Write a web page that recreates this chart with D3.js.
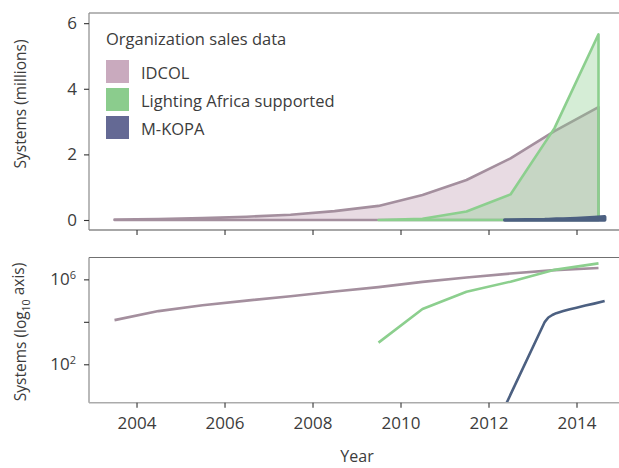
<!DOCTYPE html>
<html>
<head>
<meta charset="utf-8">
<script src="https://cdn.jsdelivr.net/npm/d3@7"></script>
<style>
body { margin: 0; background: #fff; }
text { font-family: "Open Sans", sans-serif; fill: #3c3c3c; }
</style>
</head>
<body>
<svg id="chart" width="619" height="468"></svg>
<script>
// data (systems sold, cumulative)
var idcolYears = [2003.5, 2004.5, 2005.5, 2006.5, 2007.5, 2008.5, 2009.5, 2010.5, 2011.5, 2012.5, 2013.5, 2014.5];
var idcol = [12000, 32000, 60000, 100000, 160000, 270000, 430000, 760000, 1220000, 1880000, 2710000, 3440000];

var laYears = [2009.5, 2010.5, 2011.5, 2012.5, 2013.5, 2014.5];
var lightingAfrica = [1050, 40000, 260000, 780000, 2800000, 5660000];

var mkopaYears = [2012.37, 2013.28, 2013.36, 2013.45, 2013.54, 2013.7, 2013.85, 2014.0, 2014.2, 2014.4, 2014.64];
var mkopa = [1, 10000, 16000, 21000, 25500, 32000, 39000, 46000, 58000, 72000, 95000];

var xTicks = [2004, 2006, 2008, 2010, 2012, 2014];
var topTicks = [0, 2, 4, 6];
var logTicks = [1e2, 1e4, 1e6];

var legendNames = ["IDCOL", "Lighting Africa supported", "M-KOPA"];
var legendColors = ["#c9aabe", "#8bcc8d", "#646994"];

var lineColors = ["#a48f9e", "#8ccf8e", "#4c6081"];
var fillColors = ["rgba(200,169,189,0.42)", "rgba(138,204,140,0.36)", "#4c6081"];

window.onload = _ => {
	var svg = d3.select("#chart");
	var left = 89, right = 629.3,
		top1 = 13, bot1 = 230,
		top2 = 257.5, bot2 = 402.7;

	var x = d3.scaleLinear().domain([2002.92, 2015.2]).range([left, right]);
	var yTop = d3.scaleLinear().domain([-0.305, 6.31]).range([bot1, top1]);
	var yLog = d3.scaleLog().domain([1.55, 1.07e7]).range([bot2, top2]);

	var defs = svg.append("defs");
	defs.append("clipPath").attr("id", "clip1").append("rect")
		.attr("x", left).attr("y", top1).attr("width", right - left).attr("height", bot1 - top1);
	defs.append("clipPath").attr("id", "clip2").append("rect")
		.attr("x", left).attr("y", top2).attr("width", right - left).attr("height", bot2 - top2);

	var zip = (xs, vs) => xs.map((d, i) => [d, vs[i]]);
	var series = [zip(idcolYears, idcol), zip(laYears, lightingAfrica), zip(mkopaYears, mkopa)];

	// ---- top panel (linear, millions)
	var area = d3.area()
		.x(d => x(d[0]))
		.y0(yTop(0))
		.y1(d => yTop(d[1] / 1e6));

	var g1 = svg.append("g").attr("clip-path", "url(#clip1)");
	series.forEach((s, i) => {
		g1.append("path")
			.attr("d", area(s))
			.attr("fill", fillColors[i])
			.attr("stroke", lineColors[i])
			.attr("stroke-width", i == 2 ? 3.6 : 2.6)
			.attr("stroke-linejoin", "round");
	});

	// ---- bottom panel (log)
	var line = d3.line()
		.x(d => x(d[0]))
		.y(d => yLog(d[1]));

	var g2 = svg.append("g").attr("clip-path", "url(#clip2)");
	series.forEach((s, i) => {
		g2.append("path")
			.attr("d", line(s))
			.attr("fill", "none")
			.attr("stroke", lineColors[i])
			.attr("stroke-width", 2.6)
			.attr("stroke-linejoin", "round");
	});

	// ---- frames
	function frame(t, b, bottomColor) {
		svg.append("line").attr("x1", left).attr("x2", right).attr("y1", t).attr("y2", t)
			.attr("stroke", "#707070").attr("stroke-width", 1.2);
		svg.append("line").attr("x1", left).attr("x2", left).attr("y1", t).attr("y2", b)
			.attr("stroke", "#8a8a8a").attr("stroke-width", 1.2);
		svg.append("line").attr("x1", left).attr("x2", right).attr("y1", b).attr("y2", b)
			.attr("stroke", bottomColor).attr("stroke-width", 1.4);
	}
	frame(top1, bot1, "#8a8a8a");
	frame(top2, bot2, "#ababab");

	// ---- axes
	function style(g) {
		g.select(".domain").remove();
		g.selectAll(".tick line").attr("stroke", "#333").attr("stroke-width", 1.1);
		g.selectAll("text").attr("font-size", 17).attr("fill", "#3c3c3c")
			.style("font-family", "'Open Sans', sans-serif");
	}

	svg.append("g").attr("transform", "translate(0," + bot1 + ")")
		.call(d3.axisBottom(x).tickValues(xTicks).tickFormat("").tickSize(5))
		.call(style);

	svg.append("g").attr("transform", "translate(0," + bot2 + ")")
		.call(d3.axisBottom(x).tickValues(xTicks).tickFormat(d3.format("d")).tickSize(5).tickPadding(9))
		.call(style);

	svg.append("g").attr("transform", "translate(" + left + ",0)")
		.call(d3.axisLeft(yTop).tickValues(topTicks).tickFormat(d3.format("d")).tickSize(5).tickPadding(7))
		.call(style);

	var logAxis = svg.append("g").attr("transform", "translate(" + left + ",0)")
		.call(d3.axisLeft(yLog).tickValues(logTicks).tickFormat("").tickSize(5))
		.call(style);
	logAxis.selectAll(".tick").each(function(d) {
		if (d == 1e4) return;
		var t = d3.select(this).select("text").attr("x", -13).attr("dy", "0.32em");
		t.append("tspan").text("10");
		t.append("tspan").attr("dy", "-0.55em").attr("font-size", 11).text(Math.round(Math.log10(d)));
	});

	// ---- axis titles
	svg.append("text")
		.attr("transform", "translate(26,104) rotate(-90)")
		.attr("text-anchor", "middle")
		.attr("font-size", 15.5)
		.text("Systems (millions)");

	var lt = svg.append("text")
		.attr("transform", "translate(26,332) rotate(-90)")
		.attr("text-anchor", "middle")
		.attr("font-size", 15.5);
	lt.append("tspan").text("Systems (log");
	lt.append("tspan").attr("font-size", 10.5).attr("dy", "0.35em").text("10");
	lt.append("tspan").attr("dy", "-0.35em").text(" axis)");

	svg.append("text")
		.attr("x", 357).attr("y", 462)
		.attr("text-anchor", "middle")
		.attr("font-size", 16)
		.text("Year");

	// ---- legend
	var legend = svg.append("g");
	legend.append("text").attr("x", 106).attr("y", 45).attr("font-size", 16.5)
		.text("Organization sales data");
	var items = legend.selectAll(".item").data(legendNames).enter().append("g")
		.attr("transform", (d, i) => "translate(106," + (60 + i * 28) + ")");
	items.append("rect").attr("width", 23).attr("height", 23)
		.attr("fill", (d, i) => legendColors[i]);
	items.append("text").attr("x", 35).attr("y", 18.5).attr("font-size", 16.5)
		.text(d => d);
};
</script>
</body>
</html>
